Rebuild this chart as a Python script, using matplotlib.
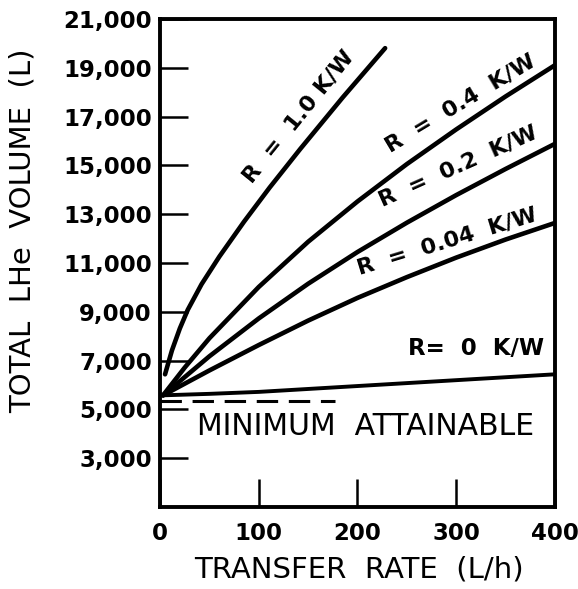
import matplotlib
matplotlib.use("Agg")
import matplotlib.pyplot as plt

# values
rate_r0 = [3, 50, 100, 150, 200, 250, 300, 350, 400]
vol_r0 = [5580, 5640, 5720, 5840, 5960, 6080, 6200, 6320, 6440]

rate_r004 = [3, 50, 100, 150, 200, 250, 300, 350, 400]
vol_r004 = [5580, 6600, 7640, 8640, 9570, 10420, 11220, 11960, 12640]

rate_r02 = [3, 50, 100, 150, 200, 250, 300, 350, 400]
vol_r02 = [5580, 7180, 8730, 10150, 11450, 12650, 13780, 14850, 15880]

rate_r04 = [3, 25, 50, 100, 150, 200, 250, 300, 350, 400]
vol_r04 = [5580, 6720, 7920, 10020, 11870, 13520, 15050, 16470, 17820, 19100]

rate_r1 = [5, 12, 20, 28, 42, 60, 85, 111, 142, 185, 228]
vol_r1 = [6440, 7420, 8320, 9080, 10130, 11260, 12690, 14090, 15670, 17780, 19800]

min_rate = [0, 177]
min_vol = [5350, 5350]

yticks = list(range(3000, 21001, 2000))
ytick_labels = [f"{v:,}" for v in yticks]
xticks = [0, 100, 200, 300, 400]

fig = plt.figure(figsize=(5.78, 5.89), dpi=100)
ax = fig.add_axes([0.277, 0.139, 0.683, 0.829])

lw = 3.3
for xs, ys in [(rate_r004, vol_r004), (rate_r02, vol_r02),
               (rate_r04, vol_r04), (rate_r1, vol_r1)]:
    ax.plot(xs, ys, color="black", lw=lw, solid_capstyle="round",
            solid_joinstyle="round")
ax.plot(rate_r0, vol_r0, color="black", lw=2.8, solid_capstyle="round")
ax.plot(min_rate, min_vol, color="black", lw=2.2, dashes=(7, 3.5))

ax.set_xlim(0, 400)
ax.set_ylim(1000, 21000)
ax.set_yticks(yticks)
ax.set_yticklabels(ytick_labels)
ax.set_xticks(xticks)
for s in ax.spines.values():
    s.set_linewidth(2.8)
ax.tick_params(direction="in", length=20, width=1.8, labelsize=16.5)
ax.tick_params(axis="y", pad=6)
ax.tick_params(axis="x", pad=11)
for lab in ax.get_xticklabels() + ax.get_yticklabels():
    lab.set_fontweight("bold")

ax.set_ylabel("TOTAL  LHe  VOLUME  (L)", fontsize=21)
ax.yaxis.set_label_coords(-0.312, 0.566)
ax.set_xlabel("TRANSFER  RATE  (L/h)", fontsize=21)
ax.xaxis.set_label_coords(0.504, -0.100)

tk = dict(fontsize=16, fontweight="bold", ha="center", va="center",
          rotation_mode="anchor")
ax.text(140, 16990, "R  =  1.0 K/W", rotation=51, **tk)
ax.text(304, 17520, "R  =  0.4  K/W", rotation=31, **tk)
ax.text(302, 14940, "R  =  0.2  K/W", rotation=24, **tk)
ax.text(291, 11890, "R  =  0.04  K/W", rotation=17, **tk)
ax.text(320, 7505, "R=  0  K/W", rotation=0, fontsize=16.5, fontweight="bold",
        ha="center", va="center")
ax.text(208, 4310, "MINIMUM  ATTAINABLE", fontsize=21.5, ha="center", va="center")

fig.savefig("out.png", dpi=100)
